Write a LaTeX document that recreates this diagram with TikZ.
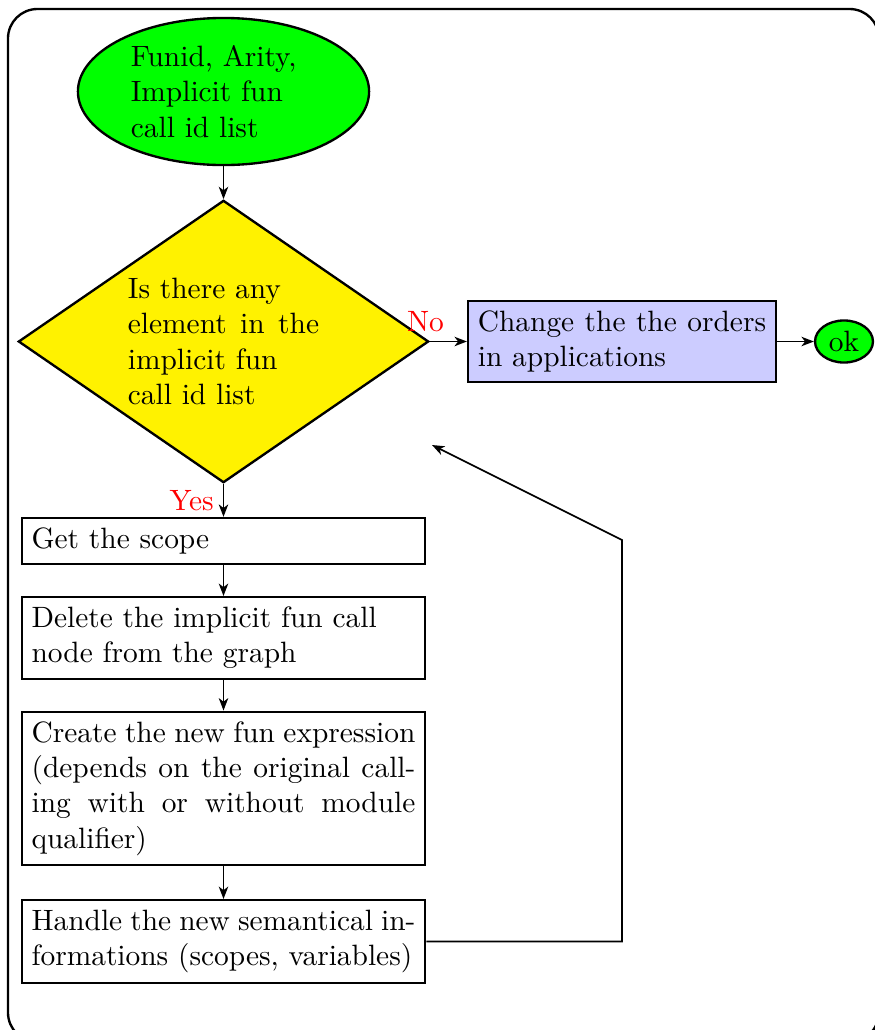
\documentclass[tikz,border=0pt]{standalone}
\usetikzlibrary{shapes.geometric,arrows.meta}
\begin{document}
\begin{tikzpicture}[x=0.34pt, y=-0.34pt,
  base/.style={draw=black, thick},
  startnode/.style={base, ellipse, fill=green, text width=63pt, align=left,
    inner sep=0pt, minimum width=99pt, minimum height=50pt},
  decision/.style={base, diamond, fill=yellow, text width=65pt, align=left,
    inner sep=0pt, aspect=1.45, minimum width=139.5pt, minimum height=96pt},
  actbox/.style={base, rectangle, fill=blue!20, text width=98pt, align=justify,
    inner sep=3.33pt},
  stepbox/.style={base, rectangle, text width=130.5pt, align=justify,
    inner sep=3.33pt},
  endnode/.style={base, ellipse, fill=green, inner sep=0pt,
    minimum width=19.7pt, minimum height=14.3pt},
  conn/.style={-{Stealth[length=4.2pt, width=3.2pt, inset=1.2pt]}, line width=0.6pt},
  lbl/.style={text=red, inner sep=2pt}
]
\useasboundingbox (0,0) rectangle (874,1030);
% surrounding frame
\draw[thick, rounded corners=10pt] (8,9) rectangle (879,1042);

% nodes
\node[startnode] (start) at (223.5,91.5) {Funid, Arity,\\ Implicit fun\\ call id list};
\node[decision] (test) at (223.5,341.5) {Is there any\\ \leavevmode\hbox to 65pt{element\hfil\ in\hfil\ the}\\ implicit fun\\ call id list};
\node[actbox] (change) at (622,341.5) {Change the the orders in applications};
\node[endnode] (ok) at (844,341.5) {ok};
\node[stepbox] (scope) at (223.5,541) {Get the scope};
\node[stepbox] (delete) at (223.5,638) {Delete the implicit fun call\\ node from the graph};
\node[stepbox] (create) at (223.5,788.5) {Create the new fun expression (depends on the original calling with or without module qualifier)};
\node[stepbox] (handle) at (223.5,941.5) {Handle the new semantical informations (scopes, variables)};

% loop back coordinates
\coordinate (up) at (622,540);
\coordinate (back) at (432,445);

% connectors
\draw[conn] (start) -- (test);
\draw[conn] (test.east) -- node[lbl, pos=0, above=1pt, xshift=-1.5pt] {N{}o} (change.west);
\draw[conn] (change) -- (ok);
\draw[conn] (test.south) -- node[lbl, left=1pt] {Yes} (scope.north);
\draw[conn] (scope) -- (delete);
\draw[conn] (delete) -- (create);
\draw[conn] (create) -- (handle);
\draw[conn] (handle.east) -| (up) -- (back);
\end{tikzpicture}
\end{document}
